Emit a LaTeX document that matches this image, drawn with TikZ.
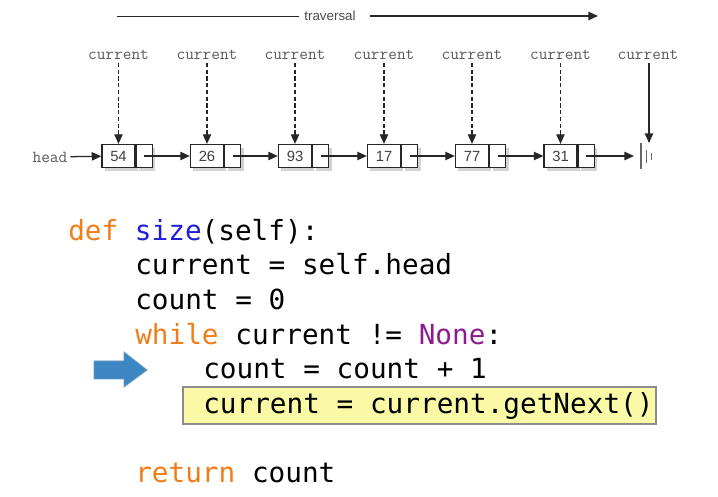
\documentclass[tikz,border=0pt]{standalone}
\usepackage{fontspec}
\setmainfont{Liberation Sans}
\newfontfamily\codefont{DejaVu Sans Mono}
\usepackage{xcolor}
\usetikzlibrary{arrows.meta,positioning,shadows}
\definecolor{kwcol}{HTML}{F07D1A}
\definecolor{fncol}{HTML}{1F1FD8}
\definecolor{nonecol}{HTML}{8E1B8E}
\definecolor{hlfill}{HTML}{FAFAA6}
\definecolor{arrfill}{HTML}{3C87C3}
\definecolor{arrdraw}{HTML}{2F6FA3}

\begin{document}
\begin{tikzpicture}[
    x=0.025cm, y=-0.025cm,
    data/.style={draw=black!85, line width=0.9pt, fill=white, minimum width=0.825cm, minimum height=0.575cm, inner sep=0pt,
      font=\fontsize{10.5}{12}\selectfont, text=black!75,
      drop shadow={opacity=0.35, shadow xshift=2pt, shadow yshift=-2.5pt}},
    nxt/.style={data, minimum width=0.4cm},
    lbl/.style={font=\ttfamily\fontsize{12}{14}\selectfont, text=black!65, inner sep=2pt},
    ptr/.style={-{Triangle[length=2.4mm,width=2.1mm]}, dash pattern=on 3pt off 1.8pt, line width=0.75pt, black!85},
    link/.style={-{Triangle[length=2.4mm,width=2.1mm]}, line width=0.9pt, black!85},
    code/.style={anchor=base west, inner sep=0pt, font=\codefont\fontsize{19.7}{24}\selectfont, text=black}
  ]
    \useasboundingbox (0,0) rectangle (718,497);

    \node[font=\fontsize{9.5}{11}\selectfont, text=black!70, inner sep=0pt] (trav) at (330,16) {traversal};
    \coordinate (travstart) at (117,16);
    \coordinate (travend)   at (598,16);
    \draw[line width=0.7pt, black!85] (travstart) -- ([xshift=-0.125cm]trav.west);
    \draw[link] ([xshift=0.35cm]trav.east) -- (travend);

    \node[lbl] (head) at (50,157) {head};

    \node[data] (d54) at (118.5,156) {54};
    \node[nxt, right=0pt of d54] (n54) {};
    \node[data] (d26) at (207,156) {26};
    \node[nxt, right=0pt of d26] (n26) {};
    \node[data] (d93) at (295,156) {93};
    \node[nxt, right=0pt of d93] (n93) {};
    \node[data] (d17) at (384,156) {17};
    \node[nxt, right=0pt of d17] (n17) {};
    \node[data] (d77) at (472,156) {77};
    \node[nxt, right=0pt of d77] (n77) {};
    \node[data] (d31) at (560.5,156) {31};
    \node[nxt, right=0pt of d31] (n31) {};

    \node[lbl] (c1) at (118.5,55) {current};
    \node[lbl] (c2) at (207,55)   {current};
    \node[lbl] (c3) at (295,55)   {current};
    \node[lbl] (c4) at (384,55)   {current};
    \node[lbl] (c5) at (472,55)   {current};
    \node[lbl] (c6) at (560.5,55) {current};
    \node[lbl] (c7) at (648,55)   {current};

    \coordinate (nil)    at (634,156);
    \coordinate (niltop) at (649,143);
    \draw[black!60, line width=0.9pt] (641,143) -- (641,169);
    \draw[black!60, line width=0.8pt] (646.5,150) -- (646.5,163);
    \draw[black!60, line width=0.8pt] (651.5,153) -- (651.5,160);

    \draw[link] (head) -- (d54);
    \draw[link] (n54.center) -- (d26);
    \draw[link] (n26.center) -- (d93);
    \draw[link] (n93.center) -- (d17);
    \draw[link] (n17.center) -- (d77);
    \draw[link] (n77.center) -- (d31);
    \draw[link] (n31.center) -- (nil);

    \draw[ptr] (c1) -- (d54);
    \draw[ptr] (c2) -- (d26);
    \draw[ptr] (c3) -- (d93);
    \draw[ptr] (c4) -- (d17);
    \draw[ptr] (c5) -- (d77);
    \draw[ptr] (c6) -- (d31);
    \draw[link] (c7.south -| niltop) -- (niltop);

    \draw[fill=hlfill, draw=black!45, line width=0.8pt] (183,387) rectangle (656,424);
    \draw[fill=arrfill, draw=arrdraw!70, line width=0.6pt]
      (94,361) -- (124,361) -- (124,352) -- (147,370) -- (124,387) -- (124,379) -- (94,379) -- cycle;

    \node[code] (l1) at (68,241)  {\textcolor{kwcol}{def} \textcolor{fncol}{size}(self):};
    \node[code] (l2) at (135,275) {current = self.head};
    \node[code] (l3) at (135,310) {count = 0};
    \node[code] (l4) at (135,345) {\textcolor{kwcol}{while} current != \textcolor{nonecol}{None}:};
    \node[code] (l5) at (203,379) {count = count + 1};
    \node[code] (l6) at (203,414) {current = current.getNext()};
    \node[code] (l8) at (135,483) {\textcolor{kwcol}{return} count};
  \end{tikzpicture}
\end{document}
